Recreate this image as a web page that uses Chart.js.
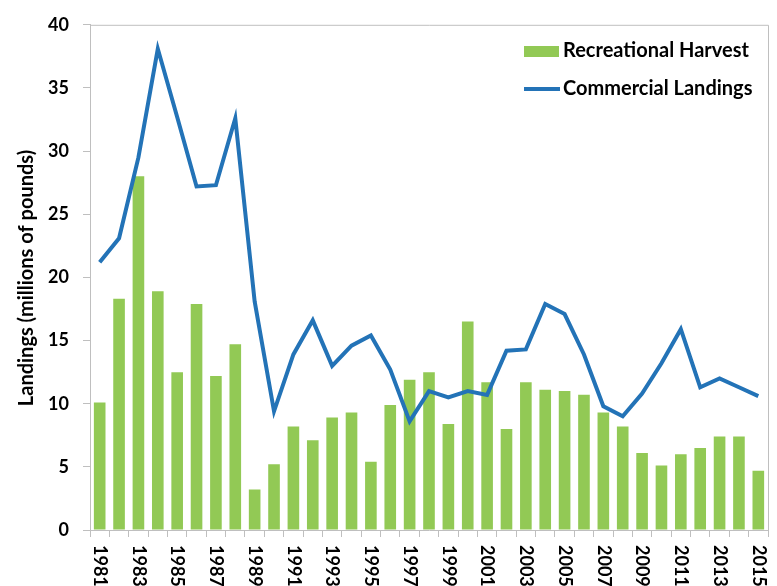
<!DOCTYPE html>
<html>
<head>
<meta charset="utf-8">
<script src="https://cdn.jsdelivr.net/npm/chart.js@4/dist/chart.umd.min.js"></script>
<style>
  html, body { margin: 0; padding: 0; background: #fff; }
  #chartID { display: block; }
</style>
</head>
<body>
<canvas id="chartID" width="777" height="586"></canvas>
<script>
let years = []
for (let y = 1981; y <= 2015; y++) years.push(String(y))

// millions of pounds
let recHarvest = [10.1, 18.3, 28.0, 18.9, 12.5, 17.9, 12.2, 14.7, 3.2, 5.2,
	8.2, 7.1, 8.9, 9.3, 5.4, 9.9, 11.9, 12.5, 8.4, 16.5,
	11.7, 8.0, 11.7, 11.1, 11.0, 10.7, 9.3, 8.2, 6.1, 5.1,
	6.0, 6.5, 7.4, 7.4, 4.7]
let commLandings = [21.2, 23.1, 29.5, 38.1, 32.7, 27.2, 27.3, 32.6, 18.1, 9.4,
	13.9, 16.6, 13.0, 14.6, 15.4, 12.7, 8.6, 11.0, 10.5, 11.0,
	10.7, 14.2, 14.3, 17.9, 17.1, 13.9, 9.8, 9.0, 10.8, 13.2,
	15.9, 11.3, 12.0, 11.3, 10.6]

const green = '#92c955'
const blue = '#2373b7'
const axisGray = '#bfbfbf'
const fontFam = 'Lato, "Open Sans", sans-serif'

// frame, axis title, rotated year labels and legend
const extras = {
	id: 'extras',
	afterDraw(chart) {
		const ctx = chart.ctx
		const a = chart.chartArea
		const xs = chart.scales.x
		ctx.save()
		ctx.strokeStyle = axisGray
		ctx.lineWidth = 1
		ctx.beginPath()
		ctx.moveTo(a.left, a.top + 0.5)
		ctx.lineTo(a.right + 0.5, a.top + 0.5)
		ctx.lineTo(a.right + 0.5, a.bottom)
		ctx.stroke()

		ctx.fillStyle = '#000'
		ctx.font = 'bold 18px ' + fontFam
		ctx.textAlign = 'left'
		ctx.textBaseline = 'middle'
		years.forEach(function(lbl, i) {
			if (i % 2) return
			ctx.save()
			ctx.translate(xs.getPixelForValue(i), a.bottom + 15)
			ctx.rotate(Math.PI / 2)
			ctx.fillText(lbl, 0, 0)
			ctx.restore()
		})

		// y title
		ctx.save()
		ctx.translate(27, 278)
		ctx.rotate(-Math.PI / 2)
		ctx.textAlign = 'center'
		ctx.font = 'bold 20px ' + fontFam
		ctx.fillText('Landings (millions of pounds)', 0, 0)
		ctx.restore()

		// legend
		ctx.font = 'bold 20px ' + fontFam
		ctx.fillStyle = green
		ctx.fillRect(524, 46, 35, 11)
		ctx.strokeStyle = blue
		ctx.lineWidth = 4
		ctx.beginPath()
		ctx.moveTo(524, 89)
		ctx.lineTo(560, 89)
		ctx.stroke()
		ctx.fillStyle = '#000'
		ctx.fillText('Recreational Harvest', 563, 51)
		ctx.fillText('Commercial Landings', 563, 89)
		ctx.restore()
	}
}

function drawChart() {
	let chartCtx = document.getElementById('chartID').getContext('2d')
	new Chart(chartCtx, {
		type: 'bar',
		data: {
			labels: years,
			datasets: [
				{
					type: 'line',
					label: 'Commercial Landings',
					data: commLandings,
					borderColor: blue,
					backgroundColor: blue,
					borderWidth: 4,
					pointRadius: 0,
					tension: 0,
					fill: false,
					order: 0,
				},
				{
					label: 'Recreational Harvest',
					data: recHarvest,
					backgroundColor: green,
					borderWidth: 0,
					barPercentage: 0.6,
					categoryPercentage: 1,
					order: 1,
				},
			],
		},
		options: {
			responsive: false,
			animation: false,
			layout: { padding: { top: 20, right: 9, left: 0, bottom: 0 } },
			plugins: {
				legend: { display: false },
				tooltip: { enabled: false },
			},
			scales: {
				x: {
					offset: true,
					ticks: { display: false },
					grid: { drawOnChartArea: false, tickLength: 7, color: axisGray, offset: true },
					border: { color: axisGray },
					afterFit: function(s) { s.height = 56 },
				},
				y: {
					min: 0,
					max: 40,
					ticks: {
						stepSize: 5,
						padding: 14,
						color: '#000',
						font: { family: fontFam, size: 18, weight: 'bold' },
					},
					grid: { drawOnChartArea: false, tickLength: 7, color: axisGray },
					border: { color: axisGray },
					afterFit: function(s) { s.width = 90 },
				},
			},
		},
		plugins: [extras],
	})
}

drawChart()
</script>
</body>
</html>
